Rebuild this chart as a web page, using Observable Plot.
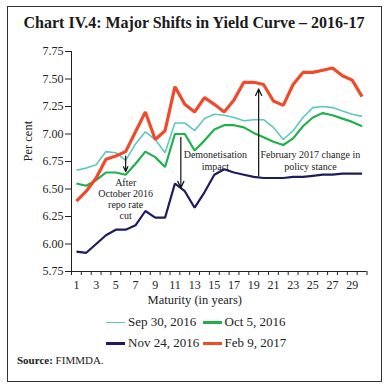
<!DOCTYPE html>
<html>
<head>
<meta charset="utf-8">
<script src="https://cdn.jsdelivr.net/npm/d3@7"></script>
<script src="https://cdn.jsdelivr.net/npm/@observablehq/plot@0.6"></script>
<style>
  html, body { margin: 0; padding: 0; background: #fff; }
  #wrap { position: relative; width: 388px; height: 391px; font-family: "Liberation Serif", serif; color: #222; overflow: hidden; }
  #border { position: absolute; left: 7px; top: 6px; width: 373px; height: 374px; border: 1.5px solid #333; }
  #title { position: absolute; left: 0; top: 14px; width: 388px; text-align: center; font-weight: bold; font-size: 16px; color: #1a1a1a; }
  #chart { position: absolute; left: 0; top: 0; }
  .leg { position: absolute; font-size: 13px; line-height: 16px; white-space: nowrap; }
  .sw { position: absolute; width: 19px; }
  #source { position: absolute; left: 17px; top: 354px; font-size: 11px; }
</style>
</head>
<body>
<div id="wrap">
  <div id="border"></div>
  <div id="title">Chart IV.4: Major Shifts in Yield Curve – 2016-17</div>
  <div id="chart"></div>
  <div id="legend"></div>
  <div id="source"><b>Source:</b> FIMMDA.</div>
</div>
<script>
// Maturities (years)
const maturity = [1,2,3,4,5,6,7,8,9,10,11,12,13,14,15,16,17,18,19,20,21,22,23,24,25,26,27,28,29,30];

// Yield curves (per cent)
const sep30 = [6.67,6.69,6.72,6.84,6.83,6.76,6.91,7.02,6.95,6.83,7.10,7.10,7.03,7.14,7.18,7.17,7.15,7.12,7.13,7.13,7.06,6.95,7.03,7.15,7.24,7.25,7.24,7.21,7.18,7.16];
const oct5  = [6.55,6.53,6.58,6.65,6.65,6.63,6.73,6.84,6.79,6.70,7.00,7.00,6.85,6.94,7.04,7.08,7.08,7.06,7.01,6.97,6.93,6.90,6.96,7.07,7.15,7.19,7.17,7.14,7.11,7.07];
const nov24 = [5.93,5.92,6.00,6.08,6.13,6.13,6.17,6.30,6.24,6.24,6.55,6.48,6.33,6.47,6.63,6.68,6.65,6.63,6.61,6.60,6.60,6.60,6.61,6.61,6.62,6.63,6.63,6.64,6.64,6.64];
const feb9  = [6.39,6.48,6.60,6.77,6.80,6.84,7.02,7.20,6.95,7.03,7.43,7.27,7.20,7.33,7.27,7.20,7.31,7.47,7.47,7.45,7.30,7.26,7.45,7.56,7.56,7.58,7.60,7.53,7.49,7.34];

const seriesNames = ["Sep 30, 2016", "Oct 5, 2016", "Nov 24, 2016", "Feb 9, 2017"];
const seriesColors = ["#5ec8c0", "#22b04b", "#1d1c5f", "#f04a2b"];
const seriesWidths = [1.6, 2.2, 2.2, 3.2];
const seriesValues = [sep30, oct5, nov24, feb9];

// Tick values
const yTicks = [5.75, 6.00, 6.25, 6.50, 6.75, 7.00, 7.25, 7.50, 7.75];
const xLabelTicks = [1,3,5,7,9,11,13,15,17,19,21,23,25,27,29];
const xTickMarks = [0.5,1.5,2.5,3.5,4.5,5.5,6.5,7.5,8.5,9.5,10.5,11.5,12.5,13.5,14.5,15.5,16.5,17.5,18.5,19.5,20.5,21.5,22.5,23.5,24.5,25.5,26.5,27.5,28.5,29.5,30.5];

// Annotations (data units)
const arrowX  = [6.0, 11.6, 19.5];
const arrowY1 = [6.80, 6.97, 6.62];
const arrowY2 = [6.66, 6.51, 7.41];
const noteText = ["After\nOctober 2016\nrepo rate\ncut", "Demonetisation\nimpact", "February 2017 change in\npolicy stance"];
const noteX = [6.0, 15.1, 24.75];
const noteY = [6.41, 6.76, 6.76];

const rows = [];
seriesValues.forEach((vals, i) => vals.forEach((v, j) => rows.push({series: seriesNames[i], m: maturity[j], v})));
const arrows = arrowX.map((x, i) => ({x, y1: arrowY1[i], y2: arrowY2[i]}));
const notes = noteText.map((t, i) => ({t, x: noteX[i], y: noteY[i]}));

const W = 388, H = 315;
const chart = Plot.plot({
  width: W, height: H,
  marginTop: 51, marginBottom: 44, marginLeft: 71, marginRight: 21.5,
  style: {fontFamily: "Liberation Serif, serif", fontSize: "12px", color: "#222", background: "transparent"},
  x: {domain: [0.5, 30.5]},
  y: {domain: [5.75, 7.75]},
  marks: [
    Plot.ruleY([5.75], {stroke: "#222", strokeWidth: 1}),
    Plot.ruleX([0.5], {stroke: "#222", strokeWidth: 1}),
    Plot.axisY({ticks: yTicks, tickSize: 6, tickPadding: 2, tickFormat: d3.format(".2f"), label: null, fontSize: 12}),
    Plot.axisX({ticks: xTickMarks, tickSize: 4, tickFormat: () => "", label: null}),
    Plot.axisX({ticks: xLabelTicks, tickSize: 0, tickPadding: 9, tickFormat: d => String(d), label: null, fontSize: 12}),
    ...seriesNames.map((s, i) => Plot.line(rows.filter(r => r.series === s), {x: "m", y: "v", stroke: seriesColors[i], strokeWidth: seriesWidths[i], strokeLinejoin: "miter", strokeLinecap: "butt"})),
    Plot.arrow(arrows, {x1: "x", x2: "x", y1: "y1", y2: "y2", stroke: "#111", strokeWidth: 1.2, headLength: 9, headAngle: 50}),
    Plot.text(notes, {x: "x", y: "y", text: "t", fontSize: 10, lineHeight: 1.13, fill: "#222", textAnchor: "middle", lineAnchor: "middle"}),
    Plot.text(["Per cent"], {frameAnchor: "left", rotate: -90, dx: -44, fontSize: 12.5, fill: "#222"}),
    Plot.text(["Maturity (in years)"], {frameAnchor: "bottom", dx: -24.5, dy: 32, fontSize: 12.5, fill: "#222"})
  ]
});
document.getElementById("chart").appendChild(chart);

// Legend
const legend = document.getElementById("legend");
const legPos = [[106, 322.7], [202.5, 322.7], [106, 343.3], [202.5, 343.3]];
seriesNames.forEach((s, i) => {
  const [lx, ly] = legPos[i];
  const sw = document.createElement("div");
  sw.className = "sw";
  const th = i === 0 ? 1.6 : (i === 3 ? 3.6 : 3);
  sw.style.left = lx + "px";
  sw.style.top = (ly - th / 2) + "px";
  sw.style.height = th + "px";
  sw.style.background = seriesColors[i];
  legend.appendChild(sw);
  const t = document.createElement("div");
  t.className = "leg";
  t.textContent = s;
  t.style.left = (lx + 22) + "px";
  t.style.top = (ly - 8.5) + "px";
  legend.appendChild(t);
});
</script>
</body>
</html>
